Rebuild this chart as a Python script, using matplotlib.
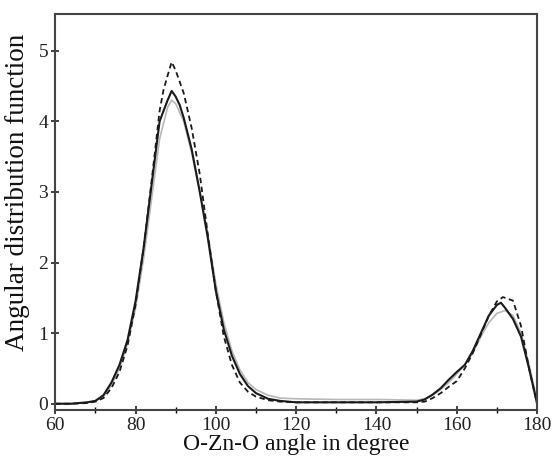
import matplotlib
matplotlib.use("Agg")
import matplotlib.pyplot as plt
from matplotlib.ticker import MultipleLocator

plt.rcParams['font.family'] = ['Liberation Serif', 'DejaVu Serif']

# Solid black curve
ang_solid = [60, 64, 68, 70, 72, 74, 76, 78, 80, 82, 84, 86, 88, 89, 90, 91, 92, 94, 96, 98,
             100, 102, 104, 106, 108, 110, 113, 116, 120, 130, 140, 150, 152, 154, 156, 158,
             160, 162, 164, 166, 168, 170, 171, 172, 174, 176, 178, 180]
adf_solid = [0.0, 0.0, 0.02, 0.04, 0.12, 0.3, 0.55, 0.9, 1.45, 2.2, 3.1, 4.0, 4.3, 4.43, 4.35, 4.23, 4.05, 3.6, 3.0, 2.35,
             1.6, 1.05, 0.68, 0.42, 0.25, 0.15, 0.07, 0.04, 0.02, 0.02, 0.02, 0.03, 0.06, 0.13, 0.22, 0.34,
             0.45, 0.55, 0.75, 1.0, 1.25, 1.4, 1.43, 1.36, 1.2, 0.95, 0.5, 0.0]

# Dashed black curve
ang_dash = [60, 64, 68, 70, 72, 74, 76, 78, 80, 82, 84, 86, 87, 88, 89, 90, 92, 94, 96, 98,
            100, 102, 104, 106, 108, 110, 113, 116, 120, 130, 140, 150, 152, 154, 156, 158,
            160, 162, 164, 166, 168, 170, 171.5, 174, 176, 178, 180]
adf_dash = [0.0, 0.0, 0.01, 0.03, 0.08, 0.22, 0.45, 0.82, 1.4, 2.2, 3.15, 4.15, 4.45, 4.65, 4.84, 4.72, 4.4, 3.9, 3.25, 2.4,
            1.6, 0.95, 0.55, 0.3, 0.17, 0.1, 0.05, 0.03, 0.02, 0.02, 0.02, 0.02, 0.03, 0.08, 0.15, 0.24,
            0.32, 0.5, 0.72, 0.98, 1.25, 1.45, 1.51, 1.46, 1.1, 0.5, 0.0]

# Gray curve
ang_gray = [60, 64, 68, 70, 72, 74, 76, 78, 80, 82, 84, 86, 88, 89, 90, 92, 94, 96, 98,
            100, 102, 104, 106, 108, 110, 113, 116, 120, 130, 140, 150, 152, 154, 156, 158,
            160, 162, 164, 166, 168, 170, 172, 174, 176, 178, 180]
adf_gray = [0.0, 0.0, 0.02, 0.04, 0.1, 0.26, 0.5, 0.85, 1.35, 2.05, 2.9, 3.75, 4.2, 4.3, 4.25, 4.0, 3.55, 3.0, 2.4,
            1.7, 1.15, 0.75, 0.48, 0.3, 0.2, 0.12, 0.08, 0.07, 0.06, 0.06, 0.05, 0.07, 0.12, 0.2, 0.3,
            0.42, 0.55, 0.72, 0.95, 1.15, 1.28, 1.32, 1.25, 1.0, 0.55, 0.05]

xticks = [60, 80, 100, 120, 140, 160, 180]
yticks = [0, 1, 2, 3, 4, 5]

fig = plt.figure(figsize=(5.52, 4.66), dpi=100)
ax = fig.add_axes([0.1, 0.12, 0.873, 0.85])

ax.plot(ang_gray, adf_gray, color='#b8b8b8', lw=1.2)
ax.plot(ang_solid, adf_solid, color='#1a1a1a', lw=1.5)
ax.plot(ang_dash, adf_dash, color='#1a1a1a', lw=1.3, ls=(0, (3, 2)))

ax.set_xlim(60, 180)
ax.set_ylim(-0.09, 5.52)
ax.set_xticks(xticks)
ax.set_yticks(yticks)
ax.xaxis.set_minor_locator(MultipleLocator(10))
ax.tick_params(axis='both', which='major', direction='inout', length=6, width=1.2,
               labelsize=14, pad=2, colors='#222222')
ax.tick_params(axis='x', which='minor', direction='inout', length=4, width=1.0)
for s in ax.spines.values():
    s.set_linewidth(1.5)
    s.set_color('#444444')

ax.set_xlabel('O-Zn-O angle in degree', fontsize=17, labelpad=0, color='#111111')
ax.set_ylabel('Angular distribution function', fontsize=19.5, color='#111111')
ax.yaxis.set_label_coords(-0.052, 0.55)

fig.savefig('out.png', dpi=100)
